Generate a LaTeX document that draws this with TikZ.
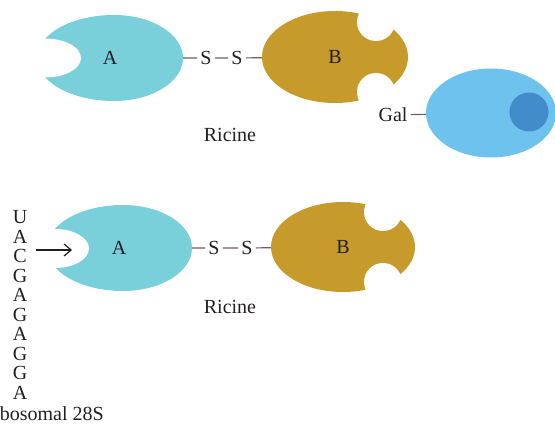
\documentclass[tikz,border=0pt]{standalone}
\usepackage{fontspec}
\setmainfont{Liberation Serif}
\usetikzlibrary{arrows.meta,shapes.geometric}
\definecolor{toxa}{HTML}{79CFDA}
\definecolor{toxb}{HTML}{C79A2C}
\definecolor{cellbody}{HTML}{6DC2EE}
\definecolor{nucleus}{HTML}{418CC9}
\definecolor{ink}{HTML}{231F20}
\definecolor{bondc}{HTML}{705C5C}

\begin{document}
\begin{tikzpicture}[x=1pt,y=-1pt,
 lbl/.style={font=\fontsize{20}{24}\selectfont,text=ink,inner sep=3pt},
 bond/.style={draw=bondc,line width=1.2pt},
 chainb/.style={ellipse,fill=toxb,minimum width=146pt,minimum height=92pt,inner sep=0pt,
  font=\fontsize{20}{24}\selectfont,text=ink},
 notch/.style={fill=white}]
 \useasboundingbox (0,0) rectangle (555,425);

 % free toxin, top row
 \fill[toxa] (114,15) arc[start angle=90,end angle=-90,x radius=69pt,y radius=43pt]
  arc[start angle=-90,end angle=-270,x radius=77pt,y radius=43pt] -- cycle;
 \fill[notch] (45,58) ellipse[x radius=36pt,y radius=19.5pt];
 \node[lbl] (a1) at (110,58) {A};
 \coordinate (a1e) at (183,58);
 \node[chainb] (b1) at (335,57) {B};
 \fill[notch] (376,22) circle[radius=19pt] (376,92) circle[radius=19pt];
 \node[lbl] (s1) at (206,58) {S};
 \node[lbl] (s2) at (237,58) {S};
 \draw[bond] (a1e) -- (s1) -- (s2) -- (b1);
 \node[lbl] (ric1) at (230,135) {Ricine};

 \node[ellipse,fill=cellbody,minimum width=130pt,minimum height=89pt,inner sep=0pt] (cell) at (491,113) {};
 \fill[nucleus] (529,112) circle[radius=19.5pt];
 \node[lbl] (gal) at (393,115) {Gal};
 \draw[bond] (gal) -- (cell);

 % toxin acting on the rRNA, bottom row
 \fill[toxa] (123,205) arc[start angle=90,end angle=-90,x radius=69pt,y radius=43pt]
  arc[start angle=-90,end angle=-270,x radius=76pt,y radius=43pt] -- cycle;
 \fill[notch] (55,248.5) ellipse[x radius=34pt,y radius=19.5pt];
 \node[lbl] (a2) at (119,248) {A};
 \coordinate (a2e) at (192,248);
 \node[chainb,minimum width=144pt,minimum height=90pt] (b2) at (343,247) {B};
 \fill[notch] (383,212) circle[radius=19pt] (383,282) circle[radius=19pt];
 \node[lbl] (s3) at (214,248) {S};
 \node[lbl] (s4) at (247,248) {S};
 \draw[bond] (a2e) -- (s3) -- (s4) -- (b2);
 \node[lbl] (ric2) at (230,307) {Ricine};

 \foreach \b [count=\i from 0] in {U,A,C,G,A,G,A,G,G,A}
  \node[lbl,inner sep=0pt] (r\i) at (20,217+19.5*\i) {\b};
 \coordinate (tail) at (36,250);
 \coordinate (tip) at (72,250);
 \draw[draw=ink,line width=1.2pt,-{Straight Barb[length=7pt,width=12pt]}] (tail) -- (tip);
 \node[lbl,anchor=base east,inner sep=0pt] (rrna) at (104,420) {Ribosomal 28S};
\end{tikzpicture}
\end{document}
